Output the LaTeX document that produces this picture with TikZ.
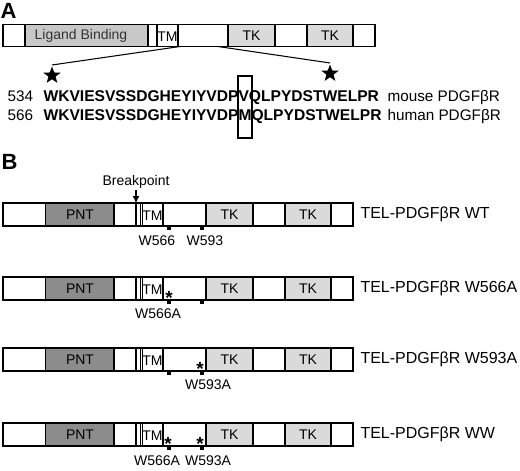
\documentclass[tikz,border=0pt]{standalone}
\usepackage{fontspec}
\setmainfont{Liberation Sans}
\usetikzlibrary{shapes.geometric,arrows.meta}
\definecolor{ligandgray}{HTML}{C8C8C8}
\definecolor{pntgray}{HTML}{8C8C8C}
\definecolor{tkgray}{HTML}{DADADA}
\begin{document}
\begin{tikzpicture}[x=1pt,y=-1pt,line width=1.05pt,
  panel/.style={anchor=base west,inner sep=0,font=\bfseries\fontsize{22}{22}\selectfont},
  seglabel/.style={inner sep=0,font=\fontsize{14}{14}\selectfont},
  seqtext/.style={anchor=base west,inner sep=0,font=\bfseries\fontsize{15.6}{15.6}\selectfont},
  plaintext/.style={anchor=base west,inner sep=0,font=\fontsize{15.3}{15.3}\selectfont},
  rowlabel/.style={anchor=west,inner sep=0,font=\fontsize{16}{16}\selectfont},
  sitelabel/.style={anchor=base,inner sep=0,font=\fontsize{14}{14}\selectfont},
  mutstar/.style={anchor=base,inner sep=0,font=\bfseries\fontsize{19}{19}\selectfont},
  bigstar/.style={star,star points=5,star point ratio=2.4,fill=black,minimum size=18pt,inner sep=0}]

\useasboundingbox (0,0) rectangle (520,471);

% painel A
\node[panel] (labA) at (0,18) {A};

% receptor completo
\def\ya{24.5}
\def\yb{46.5}
\fill[ligandgray] (25,\ya) rectangle (148,\yb);
\fill[tkgray] (228,\ya) rectangle (275,\yb);
\fill[tkgray] (307,\ya) rectangle (353,\yb);
\draw (3,\ya) rectangle (375,\yb);
\foreach \x in {25,148,157,178,228,275,307,353}
  \draw (\x,\ya) -- (\x,\yb);
\node[seglabel,text=black!80] (ligand) at (81,35.5) {Ligand Binding};
\node[seglabel] (tmA) at (167.5,36.5) {TM};
\node[seglabel] (tkA1) at (251.5,35.5) {TK};
\node[seglabel] (tkA2) at (330,35.5) {TK};

% estrelas e linhas do zoom
\node[bigstar] (star1) at (52,75.5) {};
\node[bigstar] (star2) at (330,73.5) {};
\coordinate (zoomL) at (180,\yb);
\coordinate (zoomR) at (218,\yb);
\draw (zoomL) -- (star1.north);
\draw (zoomR) -- (star2.north);

% sequencias
\node[plaintext] (num1) at (7,101.7) {534};
\node[seqtext] (seq1) at (43,101.7) {WKVIESVSSDGHEYIYVDPVQLPYDSTWELPR};
\node[plaintext] (sp1) at (387,101.7) {mouse PDGFβR};
\node[plaintext] (num2) at (7,120) {566};
\node[seqtext] (seq2) at (43,120) {WKVIESVSSDGHEYIYVDPMQLPYDSTWELPR};
\node[plaintext] (sp2) at (387,120) {human PDGFβR};

% caixa do residuo
\draw (238,76) rectangle (252,138);

% painel B
\node[panel] (labB) at (1,169) {B};

% construtos TEL-PDGFbR
\foreach \row/\yt in {wt/203,a/277,b/348,ww/423}{
  \pgfmathsetmacro\ybot{\yt+23}
  \fill[pntgray] (45.5,\yt) rectangle (114,\ybot);
  \fill[tkgray] (206,\yt) rectangle (253,\ybot);
  \fill[tkgray] (285,\yt) rectangle (331,\ybot);
  \draw (3,\yt) rectangle (353,\ybot);
  \foreach \x in {45.5,114,136,140.7,142.3,163,206,253,285,331}
    \draw (\x,\yt) -- (\x,\ybot);
  \node[seglabel] (pnt-\row) at (80,\yt+11.5) {PNT};
  \node[seglabel] (tm-\row) at (152.5,\yt+12.5) {TM};
  \node[seglabel] (tka-\row) at (229.5,\yt+11.5) {TK};
  \node[seglabel] (tkb-\row) at (308,\yt+11.5) {TK};
  % triptofanos
  \fill (167,\ybot) rectangle (171,\ybot+4);
  \fill (200,\ybot) rectangle (204,\ybot+4);
}

% ponto de quebra
\node[sitelabel] (brk) at (136,185) {Breakpoint};
\coordinate (brkpt) at (136,203);
\draw[-{Latex[length=7pt,width=7pt]}] (brk.south) ++(0,2) -- (brkpt);

% nomes dos construtos
\node[rowlabel] (wt) at (360,214.5) {TEL-PDGFβR WT};
\node[rowlabel] (w566a) at (360,288.5) {TEL-PDGFβR W566A};
\node[rowlabel] (w593a) at (360,359.5) {TEL-PDGFβR W593A};
\node[rowlabel] (ww) at (360,434.5) {TEL-PDGFβR WW};

% residuos e mutacoes
\node[sitelabel] (s566) at (157,245) {W566};
\node[sitelabel] (s593) at (205,245) {W593};
\node[mutstar] (m566a) at (169,304) {*};
\node[sitelabel] (s566a) at (158,318) {W566A};
\node[mutstar] (m593b) at (200,375) {*};
\node[sitelabel] (s593b) at (208,389) {W593A};
\node[mutstar] (m566w) at (168,450) {*};
\node[mutstar] (m593w) at (200,450) {*};
\node[sitelabel] (s566w) at (157,465) {W566A};
\node[sitelabel] (s593w) at (208,465) {W593A};

\end{tikzpicture}
\end{document}
